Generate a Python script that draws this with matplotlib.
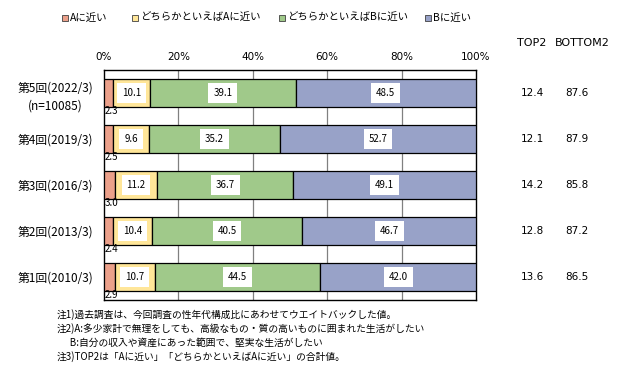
import matplotlib
matplotlib.use("Agg")
import matplotlib.pyplot as plt
import matplotlib.transforms as mtransforms
import numpy as np

plt.rcParams['font.family'] = ['Noto Sans CJK JP', 'DejaVu Sans']

categories = ["第5回(2022/3)\n(n=10085)", "第4回(2019/3)", "第3回(2016/3)", "第2回(2013/3)", "第1回(2010/3)"]
series_names = ["Aに近い", "どちらかといえばAに近い", "どちらかといえばBに近い", "Bに近い"]
a_close = [2.3, 2.5, 3.0, 2.4, 2.9]
a_some = [10.1, 9.6, 11.2, 10.4, 10.7]
b_some = [39.1, 35.2, 36.7, 40.5, 44.5]
b_close = [48.5, 52.7, 49.1, 46.7, 42.0]
top2 = [12.4, 12.1, 14.2, 12.8, 13.6]
bottom2 = [87.6, 87.9, 85.8, 87.2, 86.5]
xticks = [0, 20, 40, 60, 80, 100]
notes = [
    "注1)過去調査は、今回調査の性年代構成比にあわせてウエイトバックした値。",
    "注2)A:多少家計で無理をしても、高級なもの・質の高いものに囲まれた生活がしたい",
    "      B:自分の収入や資産にあった範囲で、堅実な生活がしたい",
    "注3)TOP2は「Aに近い」「どちらかといえばAに近い」の合計値。",
]

colors = ["#EBA08A", "#FFE699", "#A0C98A", "#98A2C8"]

fig = plt.figure(figsize=(6.24, 3.78), dpi=100)
ax = fig.add_axes([104/624, 1-300/378, 372/624, 230/378])

y = np.arange(len(categories))
series = [a_close, a_some, b_some, b_close]
left = np.zeros(len(categories))
for i, (vals, c) in enumerate(zip(series, colors)):
    vals = np.array(vals)
    ax.barh(y, vals, left=left, height=0.59, color=c, edgecolor="black", linewidth=0.9, zorder=3)
    for yi, (l, v) in enumerate(zip(left, vals)):
        if i == 0:
            ax.text(l + 0.1, yi + 0.29, f"{v:.1f}", ha="left", va="top", fontsize=7, zorder=5)
        else:
            ax.text(l + v/2, yi, f"{v:.1f}", ha="center", va="center", fontsize=7, zorder=5,
                    bbox=dict(boxstyle="square,pad=0.5", facecolor="white", edgecolor="none"))
    left = left + vals

ax.set_xlim(0, 100)
ax.set_ylim(len(categories) - 0.5, -0.5)
ax.set_xticks(xticks)
ax.set_xticklabels([f"{t}%" for t in xticks], fontsize=7.5, family="DejaVu Sans")
ax.xaxis.tick_top()
ax.tick_params(axis="x", length=0, pad=6)
ax.set_yticks(y)
ax.set_yticklabels(categories, fontsize=8.5, ha="center", linespacing=1.5)
ax.tick_params(axis="y", length=0, pad=35)
for t in xticks[1:-1]:
    ax.axvline(t, color="#808080", linewidth=0.9, zorder=1)
for s in ax.spines.values():
    s.set_linewidth(1.0)
    s.set_color("black")

# legend (manual placement)
leg_x = [62, 132, 279, 425]
for lx, c, name in zip(leg_x, colors, series_names):
    fig.patches.append(plt.Rectangle((lx/624, 1-21/378), 6/624, 6/378, facecolor=c,
                                     edgecolor="#404040", linewidth=0.6, transform=fig.transFigure))
    fig.text((lx + 8)/624, 1-18/378, name, ha="left", va="center", fontsize=7.5)

# TOP2 / BOTTOM2
blend = mtransforms.blended_transform_factory(fig.transFigure, ax.transData)
fig.text(532/624, 1-43/378, "TOP2", ha="center", va="center", fontsize=8, family="DejaVu Sans")
fig.text(582/624, 1-43/378, "BOTTOM2", ha="center", va="center", fontsize=8, family="DejaVu Sans")
for yi, (t, b) in enumerate(zip(top2, bottom2)):
    ax.text(532/624, yi, f"{t:.1f}", transform=blend, ha="center", va="center", fontsize=7.5, family="DejaVu Sans")
    ax.text(577/624, yi, f"{b:.1f}", transform=blend, ha="center", va="center", fontsize=7.5, family="DejaVu Sans")

for i, n in enumerate(notes):
    fig.text(57/624, 1-(315 + i*14)/378, n, ha="left", va="center", fontsize=7)

fig.savefig("out.png", dpi=100, facecolor="white")
